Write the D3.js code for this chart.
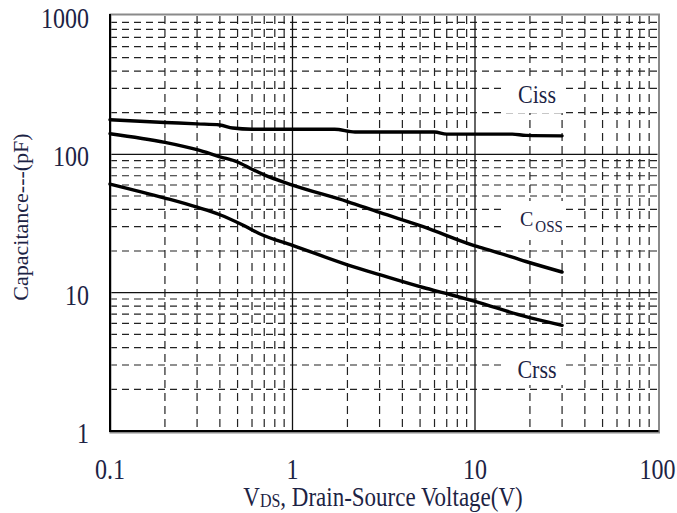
<!DOCTYPE html>
<html>
<head>
<meta charset="utf-8">
<script src="https://cdn.jsdelivr.net/npm/d3@7"></script>
<style>
  html, body { margin: 0; padding: 0; background: #fff; }
  svg { display: block; }
</style>
</head>
<body>
<svg id="chart" width="677" height="513"></svg>
<script>
// ---- data ----
const xTicks = [0.1, 1, 10, 100];
const xTickLabels = ["0.1", "1", "10", "100"];
const yTicks = [1, 10, 100, 1000];
const yTickLabels = ["1", "10", "100", "1000"];

const cissV = [0.1, 0.2, 0.3, 0.4, 0.47, 0.6, 1, 1.7, 2.2, 6, 7, 16, 19, 30];
const cissC = [178, 170, 166, 163, 155, 152, 152, 152, 145, 145, 140, 140, 137, 136];

const cossV = [0.1, 0.2, 0.3, 0.4, 0.5, 0.6, 0.7, 1, 2, 3, 5.2, 10, 12.5, 19, 30];
const cossC = [141, 122, 108, 96, 88, 78, 71, 60, 45.6, 38, 30, 21.8, 20.0, 16.8, 14.1];

const crssV = [0.1, 0.2, 0.3, 0.4, 0.53, 0.68, 1, 2, 3, 5.2, 7.3, 10, 19, 30];
const crssC = [61, 48.3, 41.5, 36.6, 31, 26.2, 22, 15.9, 13.5, 10.9, 9.7, 8.65, 6.7, 5.8];

const curveLabels = ["Ciss", "C", "Crss"];

// ---- layout ----
const svg = d3.select("#chart");
const L = 110, R = 657.5, T = 16, B = 431;
const x = d3.scaleLog().domain([0.1, 100]).range([L, R]);
const y = d3.scaleLog().domain([1, 1000]).range([B, T]);
const ink = "#1c2344";
const SY = 1.2;

// minor grid values
const minorX = [], minorY = [];
[0.1, 1, 10].forEach(d => { for (let k = 2; k <= 9; k++) minorX.push(+(d * k).toPrecision(3)); });
[1, 10, 100].forEach(d => { for (let k = 2; k <= 9; k++) minorY.push(+(d * k).toPrecision(3)); });

const grid = svg.append("g");
grid.selectAll("line.hx").data(minorY).enter().append("line")
  .attr("x1", L).attr("x2", R).attr("y1", d => y(d)).attr("y2", d => y(d))
  .attr("stroke", "#222").attr("stroke-width", 1.2).attr("stroke-dasharray", "7,5");
grid.selectAll("line.vx").data(minorX).enter().append("line")
  .attr("y1", T).attr("y2", B).attr("x1", d => x(d)).attr("x2", d => x(d))
  .attr("stroke", "#222").attr("stroke-width", 1.2).attr("stroke-dasharray", "8,5");

// major grid
grid.selectAll("line.my").data([10, 100]).enter().append("line")
  .attr("x1", L).attr("x2", R).attr("y1", d => y(d)).attr("y2", d => y(d))
  .attr("stroke", "#111").attr("stroke-width", 1.3);
grid.selectAll("line.mx").data([1, 10]).enter().append("line")
  .attr("y1", T).attr("y2", B).attr("x1", d => x(d)).attr("x2", d => x(d))
  .attr("stroke", "#111").attr("stroke-width", 1.3);

// label background boxes (hide grid behind curve labels)
const boxes = [[503, 77, 62, 36], [503, 201, 62, 39], [503, 352, 62, 33]];
svg.selectAll("rect.bg").data(boxes).enter().append("rect")
  .attr("x", d => d[0]).attr("y", d => d[1]).attr("width", d => d[2]).attr("height", d => d[3])
  .attr("fill", "#fff");

// frame
svg.append("rect").attr("x", L + 0.5).attr("y", T - 1.5).attr("width", R - L + 1).attr("height", B - T + 3)
  .attr("fill", "none").attr("stroke", "#8a8a8a").attr("stroke-width", 2);
svg.append("line").attr("x1", L).attr("x2", L).attr("y1", T - 2).attr("y2", B + 1)
  .attr("stroke", "#000").attr("stroke-width", 2);
svg.append("line").attr("x1", L).attr("x2", R + 1).attr("y1", B).attr("y2", B)
  .attr("stroke", "#000").attr("stroke-width", 2);

// curves
const line = d3.line().x(d => x(d[0])).y(d => y(d[1])).curve(d3.curveMonotoneX);
[[cissV, cissC], [cossV, cossC], [crssV, crssC]].forEach(([vs, cs]) => {
  svg.append("path").datum(vs.map((v, i) => [v, cs[i]]))
    .attr("d", line).attr("fill", "none").attr("stroke", "#000")
    .attr("stroke-width", 3.4).attr("stroke-linejoin", "round").attr("stroke-linecap", "round");
});

// helper for stretched text
function txt(px, py, s, size, anchor, sy) {
  return svg.append("text")
    .attr("transform", `translate(${px},${py}) scale(1,${sy})`)
    .attr("font-family", "'Liberation Serif', 'Times New Roman', serif")
    .attr("font-size", size).attr("fill", ink).attr("text-anchor", anchor).text(s);
}

// tick labels
xTicks.forEach((v, i) => txt(x(v), 479, xTickLabels[i], 24, "middle", SY));
yTicks.forEach((v, i) => txt(89, y(v) + 12, yTickLabels[i], 24, "end", SY));

// axis titles
const xt = svg.append("text")
  .attr("transform", `translate(383,506) scale(1,1.15)`)
  .attr("font-family", "'Liberation Serif', 'Times New Roman', serif")
  .attr("font-size", 23).attr("fill", ink).attr("text-anchor", "middle");
xt.append("tspan").text("V");
xt.append("tspan").attr("font-size", 16).attr("dy", 1).text("DS");
xt.append("tspan").attr("dy", -1).text(", Drain-Source Voltage(V)");

svg.append("text")
  .attr("transform", `translate(28,217) rotate(-90)`)
  .attr("font-family", "'Liberation Serif', 'Times New Roman', serif")
  .attr("font-size", 22).attr("fill", ink).attr("text-anchor", "middle")
  .text("Capacitance---(pF)");

// curve labels
txt(537, 103, curveLabels[0], 22, "middle", 1.1);
const co = svg.append("text")
  .attr("transform", `translate(520,226) scale(1,1.1)`)
  .attr("font-family", "'Liberation Serif', 'Times New Roman', serif")
  .attr("font-size", 20).attr("fill", ink).attr("text-anchor", "start");
co.append("tspan").text(curveLabels[1]);
co.append("tspan").attr("font-size", 15).attr("dx", 2).attr("dy", 5).text("OSS");
txt(537, 378, curveLabels[2], 22, "middle", 1.1);
</script>
</body>
</html>
